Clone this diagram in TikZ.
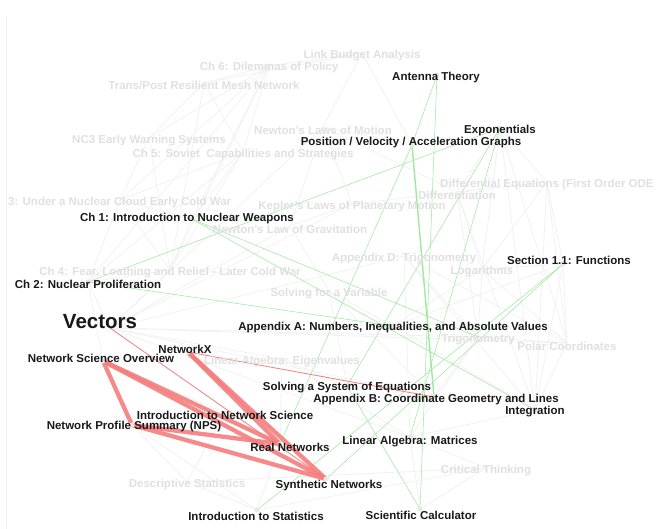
\documentclass[tikz,border=0pt]{standalone}
\usepackage{fontspec}
\setmainfont{Liberation Sans}
\definecolor{netred}{RGB}{245,125,125}
\definecolor{mathgreen}{RGB}{160,232,160}
\definecolor{faintline}{RGB}{241,241,241}
\definecolor{fadetext}{RGB}{224,224,224}
\definecolor{darktext}{RGB}{25,25,25}
\begin{document}
\begin{tikzpicture}[x=1pt,y=-1pt,
  lbl/.style={font=\bfseries\fontsize{11.5}{13}\selectfont,inner sep=0pt},
  darklbl/.style={lbl,text=darktext},
  fadelbl/.style={lbl,text=fadetext},
  biglbl/.style={font=\bfseries\fontsize{20.5}{22}\selectfont,inner sep=0pt,text=darktext},
  grayedge/.style={draw=faintline,line width=0.8pt},
  greenedge/.style={draw=mathgreen,line width=0.55pt},
  greenthick/.style={draw=mathgreen,line width=1.4pt},
  redthick/.style={draw=netred,line width=4.3pt,line cap=round},
  redthin/.style={draw=netred,line width=0.8pt},
  dotmark/.style={fill=black!9,draw=none}]
\useasboundingbox (0,0) rectangle (657,529);
\draw[draw=faintline,line width=0.6pt] (6,16) -- (6,529);
% ---- node positions ----
\coordinate (antenna) at (437,75);
\coordinate (expo) at (500,128);
\coordinate (pos) at (412,145);
\coordinate (ch1) at (192,219);
\coordinate (sec11) at (563,264);
\coordinate (ch2) at (88,282);
\coordinate (vectors) at (110,328);
\coordinate (appA) at (393,326);
\coordinate (networkx) at (188,352);
\coordinate (nso) at (103,361);
\coordinate (solsys) at (347,386);
\coordinate (appB) at (434,397);
\coordinate (integ) at (535,410);
\coordinate (intro) at (225,413);
\coordinate (nps) at (132,425);
\coordinate (linmat) at (410,437);
\coordinate (realnet) at (280,444);
\coordinate (synth) at (326,479);
\coordinate (introstats) at (257,510);
\coordinate (scicalc) at (420,509);
\coordinate (link) at (362,53);
\coordinate (ch6) at (269,66);
\coordinate (trans) at (204,83);
\coordinate (newton) at (323,127);
\coordinate (nc3) at (149,138);
\coordinate (ch5) at (243,152);
\coordinate (diffeq) at (547,182);
\coordinate (differ) at (457,192);
\coordinate (ch3) at (120,200);
\coordinate (kepler) at (352,204);
\coordinate (newtgrav) at (290,226);
\coordinate (appD) at (404,256);
\coordinate (loga) at (482,269);
\coordinate (ch4) at (170,270);
\coordinate (solvar) at (329,291);
\coordinate (trig) at (478,337);
\coordinate (polar) at (567,343);
\coordinate (eigen) at (282,359);
\coordinate (crit) at (486,468);
\coordinate (descstat) at (187,482);
% ---- faint gray edges ----
\foreach \a/\b in {ch6/ch5,ch6/nc3,ch6/ch3,ch6/ch4,ch6/trans,ch6/ch1,ch6/ch2,trans/ch5,trans/ch4,trans/nc3,
  link/ch6,link/trans,link/newton,link/pos,nc3/ch3,nc3/ch4,ch5/ch3,ch5/ch4,ch5/ch2,ch5/ch1,ch3/ch4,ch3/ch1,
  ch3/ch2,ch4/ch2,ch4/ch1,ch4/vectors,newton/kepler,newton/newtgrav,newton/vectors,newton/differ,newton/pos,
  kepler/newtgrav,kepler/vectors,kepler/differ,newtgrav/vectors,newtgrav/solvar,differ/diffeq,differ/integ,
  differ/loga,differ/expo,diffeq/integ,diffeq/expo,diffeq/sec11,diffeq/loga,appD/trig,appD/polar,appD/vectors,
  appD/linmat,loga/expo,loga/sec11,loga/appA,trig/polar,trig/vectors,trig/appB,polar/integ,polar/vectors,
  solvar/appA,solvar/solsys,solvar/appB,eigen/linmat,eigen/vectors,eigen/solsys,eigen/realnet,
  descstat/introstats,descstat/nps,descstat/crit,crit/linmat,crit/scicalc,crit/introstats,vectors/linmat,
  vectors/appB,nso/realnet,nps/introstats,intro/descstat,appA/integ,appA/sec11,sec11/integ,sec11/polar,
  expo/integ,expo/polar,differ/trig,loga/trig,loga/polar,diffeq/polar,appD/integ,linmat/integ,linmat/trig,
  introstats/realnet,scicalc/linmat,nso/intro,intro/nps,ch2/nso,vectors/ch2}
  \draw[grayedge] (\a) -- (\b);
% ---- green edges ----
\draw[greenthick] (pos) -- (appB);
\foreach \a/\b in {antenna/pos,antenna/scicalc,expo/solsys,ch2/expo,ch1/integ,ch1/trig,scicalc/solsys,
  introstats/sec11,realnet/pos,synth/sec11,linmat/expo,appA/ch2}
  \draw[greenedge] (\a) -- (\b);
% ---- red edges ----
\foreach \a/\b in {nso/nps,nso/realnet,nso/synth,nps/realnet,nps/synth,networkx/realnet,networkx/synth}
  \draw[redthick,opacity=0.9] (\a) -- (\b);
\draw[redthin] (networkx) -- (appB);
\draw[redthin] (vectors) -- (synth);
% ---- dots ----
\foreach \n in {antenna,expo,pos,ch1,sec11,ch2,appA,networkx,nso,solsys,appB,integ,intro,nps,linmat,
  realnet,synth,introstats,scicalc}
  \fill[dotmark] (\n) circle (2.6);
% ---- faded labels ----
\node[fadelbl] (Llink) at (362,56) {Link Budget Analysis};
\node[fadelbl] (Lch6) at (269,68) {Ch 6: Dilemmas of Policy};
\node[fadelbl] (Ltrans) at (204,85) {Trans/Post Resilient Mesh Network};
\node[fadelbl] (Lnewton) at (323,130) {Newton's Laws of Motion};
\node[fadelbl] (Lnc3) at (149,141) {NC3 Early Warning Systems};
\node[fadelbl] (Lch5) at (243,155) {Ch 5: Soviet\ \ Capabilities and Strategies};
\node[fadelbl,anchor=west] (Ldiffeq) at (440,185) {Differential Equations (First Order ODE};
\node[fadelbl] (Ldiffer) at (457,195) {Differentiation};
\node[fadelbl,anchor=west] (Lch3) at (8,203) {3: Under a Nuclear Cloud Early Cold War};
\node[fadelbl] (Lkepler) at (352,207) {Kepler's Laws of Planetary Motion};
\node[fadelbl] (Lnewtgrav) at (290,229) {Newton's Law of Gravitation};
\node[fadelbl] (LappD) at (404,259) {Appendix D: Trigonometry};
\node[fadelbl] (Lloga) at (482,272) {Logarithms};
\node[fadelbl] (Lch4) at (170,273) {Ch 4: Fear, Loathing and Relief - Later Cold War};
\node[fadelbl] (Lsolvar) at (329,294) {Solving for a Variable};
\node[fadelbl] (Ltrig) at (478,340) {Trigonometry};
\node[fadelbl] (Lpolar) at (567,346) {Polar Coordinates};
\node[fadelbl] (Leigen) at (282,362) {Linear Algebra: Eigenvalues};
\node[fadelbl] (Lcrit) at (486,471) {Critical Thinking};
\node[fadelbl] (Ldesc) at (187,485) {Descriptive Statistics};
% ---- dark labels ----
\node[darklbl] (Lantenna) at (436,78) {Antenna Theory};
\node[darklbl] (Lexpo) at (500,131) {Exponentials};
\node[darklbl] (Lpos) at (411,143) {Position / Velocity / Acceleration Graphs};
\node[darklbl] (Lch1) at (187,219) {Ch 1: Introduction to Nuclear Weapons};
\node[darklbl] (Lsec11) at (569,260) {Section 1.1: Functions};
\node[darklbl] (Lch2) at (88,284) {Ch 2: Nuclear Proliferation};
\node[biglbl] (Lvectors) at (100,322) {Vectors};
\node[darklbl] (LappA) at (393,328) {Appendix A: Numbers, Inequalities, and Absolute Values};
\node[darklbl] (Lnetworkx) at (185,349) {NetworkX};
\node[darklbl] (Lnso) at (101,358) {Network Science Overview};
\node[darklbl] (Lsolsys) at (347,388) {Solving a System of Equations};
\node[darklbl] (LappB) at (436,400) {Appendix B: Coordinate Geometry and Lines};
\node[darklbl] (Linteg) at (535,412) {Integration};
\node[darklbl] (Lintro) at (225,415) {Introduction to Network Science};
\node[darklbl] (Lnps) at (134,427) {Network Profile Summary (NPS)};
\node[darklbl] (Llinmat) at (410,442) {Linear Algebra: Matrices};
\node[darklbl] (Lrealnet) at (290,447) {Real Networks};
\node[darklbl] (Lsynth) at (329,486) {Synthetic Networks};
\node[darklbl] (Lintrostats) at (256,516) {Introduction to Statistics};
\node[darklbl] (Lscicalc) at (421,515) {Scientific Calculator};
\end{tikzpicture}
\end{document}
